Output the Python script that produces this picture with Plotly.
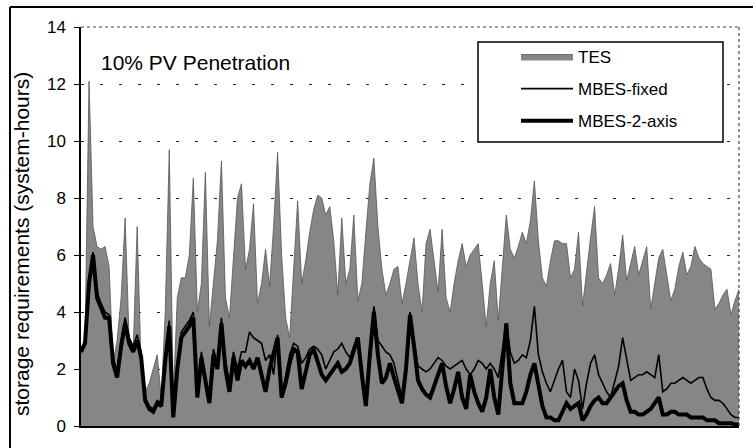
import plotly.graph_objects as go

# ---- data (one value per day/sample) ----
tes = [2.5, 3.0, 12.1, 7.0, 6.3, 6.2, 6.3, 5.6, 2.2, 3.0,
       4.5, 7.3, 3.0, 2.6, 7.0, 2.0, 1.2, 1.5, 2.0, 2.5,
       1.0, 4.0, 9.7, 1.0, 4.5, 5.2, 5.2, 6.0, 8.7, 4.0,
       5.0, 8.9, 3.5, 5.0, 6.5, 9.3, 4.5, 3.8, 6.0, 8.0,
       8.5, 5.5, 6.2, 7.8, 4.3, 5.0, 6.2, 4.9, 7.0, 9.6,
       6.0, 3.8, 3.1, 5.5, 7.9, 5.0, 5.8, 6.8, 7.6, 8.1,
       8.0, 7.4, 7.7, 6.5, 4.6, 7.3, 5.0, 5.5, 7.4, 4.4,
       5.0, 6.8, 8.5, 9.4, 7.0, 5.5, 4.6, 5.0, 5.5, 5.6,
       4.3, 5.0, 5.8, 6.6, 5.0, 4.0, 6.4, 6.9, 5.8, 4.7,
       6.9, 4.5, 4.0, 5.0, 5.8, 6.4, 5.6, 6.0, 6.2, 6.4,
       5.0, 3.5, 5.0, 5.8, 3.7, 5.5, 7.4, 6.2, 5.9, 6.3,
       6.8, 6.4, 7.2, 8.6, 6.5, 5.2, 4.9, 5.8, 6.5, 6.5,
       6.4, 6.4, 5.2, 5.5, 6.8, 4.2, 5.5, 6.6, 7.7, 5.2,
       5.0, 5.3, 5.7, 4.6, 5.5, 6.7, 5.1, 5.7, 6.3, 5.3,
       5.8, 6.3, 4.1, 5.0, 5.9, 6.2, 5.3, 4.4, 4.8, 5.6,
       6.1, 5.3, 5.6, 6.3, 5.9, 5.7, 5.6, 5.5, 4.1, 4.3,
       4.6, 4.8, 3.9, 4.4, 4.8]

mbes_fixed = [2.7, 3.0, 5.2, 6.1, 4.7, 4.3, 4.0, 3.9, 2.4, 1.9,
              3.0, 3.8, 3.1, 2.8, 3.2, 2.6, 1.0, 0.7, 0.6, 0.9,
              0.8, 2.5, 3.7, 0.4, 2.2, 3.3, 3.5, 3.7, 4.0, 1.2,
              2.6, 1.7, 1.0, 2.7, 2.2, 3.8, 2.3, 1.5, 2.6, 2.0,
              2.6, 2.6, 3.3, 3.1, 3.0, 2.9, 2.3, 2.5, 1.8, 3.2,
              1.0, 1.8, 2.5, 2.9, 2.8, 2.2, 2.4, 2.7, 2.8, 2.7,
              2.5, 2.0, 2.3, 2.6, 2.7, 2.9, 2.6, 2.4, 2.8, 3.1,
              2.0, 0.8, 2.8, 4.2, 3.0, 2.8, 2.6, 2.5, 2.2, 1.6,
              1.0, 2.2, 4.0, 3.0, 2.1, 2.0, 1.9, 2.0, 2.2, 2.4,
              2.3, 2.1, 2.0, 2.1, 2.2, 2.3, 2.0, 1.8, 2.0, 2.3,
              2.2, 2.0, 2.2, 2.0, 1.7, 2.6, 3.6, 2.6, 2.2, 2.3,
              2.5, 2.4, 3.0, 4.2, 2.5, 1.9, 1.5, 1.2, 1.6, 2.0,
              2.3, 1.2, 1.0, 2.0, 1.6, 0.6, 1.5, 2.2, 2.5, 1.8,
              1.5, 1.2, 1.0, 1.6, 2.1, 3.1, 2.3, 1.6, 1.7, 1.8,
              1.8, 1.9, 1.8, 1.7, 2.5, 1.2, 1.3, 1.5, 1.5, 1.6,
              1.7, 1.6, 1.5, 1.6, 1.7, 1.7, 1.3, 1.0, 0.9, 0.9,
              0.8, 0.6, 0.4, 0.3, 0.3]

mbes_2axis = [2.6, 2.9, 5.0, 6.0, 4.5, 4.1, 3.8, 3.8, 2.2, 1.7,
              2.8, 3.6, 2.9, 2.6, 3.0, 2.4, 0.9, 0.6, 0.5, 0.8,
              0.7, 2.3, 3.5, 0.3, 2.0, 3.1, 3.3, 3.5, 3.8, 1.0,
              2.4, 1.5, 0.8, 2.5, 2.0, 3.6, 2.0, 1.2, 2.4, 1.6,
              2.3, 2.1, 2.3, 2.0, 2.4, 1.8, 1.2, 2.0, 2.5, 3.1,
              1.0, 1.5, 2.2, 2.7, 2.6, 1.3, 1.9, 2.5, 2.7, 2.2,
              1.8, 1.6, 1.8, 2.0, 2.2, 1.9, 2.0, 2.2, 2.6, 3.1,
              1.8, 0.7, 2.5, 4.0, 2.5, 1.5, 1.7, 2.2, 1.7, 1.2,
              0.8, 2.0, 3.9, 2.8, 1.6, 1.3, 1.1, 1.0, 1.4, 1.8,
              2.2, 1.4, 0.8, 1.3, 1.9, 1.0, 0.6, 1.8, 1.2, 0.8,
              0.5, 1.0, 2.0, 1.0, 0.4, 2.0, 3.6, 1.5, 0.8, 0.8,
              0.8, 1.2, 1.8, 2.2, 1.5, 0.7, 0.3, 0.3, 0.2, 0.2,
              0.5, 0.8, 0.6, 0.7, 0.8, 0.2, 0.4, 0.7, 0.9, 1.0,
              0.8, 0.8, 1.0, 1.2, 1.4, 1.5, 0.9, 0.5, 0.5, 0.4,
              0.4, 0.5, 0.6, 0.8, 1.0, 0.4, 0.4, 0.5, 0.5, 0.4,
              0.4, 0.4, 0.3, 0.3, 0.3, 0.3, 0.2, 0.2, 0.2, 0.1,
              0.1, 0.1, 0.1, 0.05, 0.05]

days = list(range(len(tes)))
y_ticks = [0, 2, 4, 6, 8, 10, 12, 14]

fig = go.Figure()
fig.add_trace(go.Scatter(x=days, y=tes, name="TES", mode="lines", fill="tozeroy",
                         fillcolor="#868686", line=dict(color="#555555", width=0.8),
                         legendgroup="a"))
fig.add_trace(go.Scatter(x=days, y=mbes_fixed, name="MBES-fixed", mode="lines",
                         line=dict(color="black", width=1.6), legendgroup="b"))
fig.add_trace(go.Scatter(x=days, y=mbes_2axis, name="MBES-2-axis", mode="lines",
                         line=dict(color="black", width=4), legendgroup="c"))

W, H = 753, 448
L, R, T, B = 81, 14, 27, 22
pw, ph = W - L - R, H - T - B

def px(xp):
    return (xp - L) / pw

def py(yp):
    return (H - B - yp) / ph

fig.update_layout(
    width=W, height=H,
    margin=dict(l=L, r=R, t=T, b=B),
    paper_bgcolor="white", plot_bgcolor="white",
    showlegend=True,
    legend=dict(x=px(516), y=py(39), xanchor="left", yanchor="top",
                borderwidth=0, bgcolor="rgba(0,0,0,0)",
                font=dict(family="Liberation Sans, Arial, sans-serif", size=17, color="black"),
                itemwidth=52, tracegroupgap=7),
    xaxis=dict(range=[0, len(tes) - 1], showticklabels=False, ticks="", showgrid=False,
               zeroline=False, showline=True, linecolor="black", linewidth=1.5),
    yaxis=dict(range=[0, 14], tickvals=y_ticks, ticks="outside", ticklen=5, tickwidth=1.2,
               tickcolor="black", showline=True, linecolor="black", linewidth=1.5,
               showgrid=True, gridcolor="#222", gridwidth=1.3, griddash="3px,16px",
               zeroline=False, ticklabelstandoff=5,
               tickfont=dict(family="Liberation Sans, Arial, sans-serif",
                             size=17, color="black")),
    shapes=[
        # dotted top and right plot borders
        dict(type="line", xref="paper", yref="paper", x0=0, x1=1, y0=1, y1=1,
             line=dict(color="#444", width=1.2, dash="dot")),
        dict(type="line", xref="paper", yref="paper", x0=1, x1=1, y0=0, y1=1,
             line=dict(color="#444", width=1.2, dash="dot")),
        # legend box
        dict(type="rect", xref="paper", yref="paper", layer="above",
             x0=px(478), x1=px(723), y0=py(142), y1=py(42),
             fillcolor="white", line=dict(color="black", width=1.5)),
        # outer frame (top and left edges)
        dict(type="line", xref="paper", yref="paper", x0=px(10), x1=px(760), y0=py(7), y1=py(7),
             line=dict(color="black", width=2)),
        dict(type="line", xref="paper", yref="paper", x0=px(10), x1=px(10), y0=py(7), y1=py(460),
             line=dict(color="black", width=2)),
    ],
    annotations=[
        dict(text="10% PV Penetration", xref="paper", yref="paper", x=px(99), y=py(62),
             xanchor="left", yanchor="middle", showarrow=False,
             font=dict(family="Liberation Sans, Arial, sans-serif", size=21, color="black")),
        dict(text="storage requirements (system-hours)", xref="paper", yref="paper",
             x=px(21), y=py(244), xanchor="center", yanchor="middle", textangle=-90,
             showarrow=False,
             font=dict(family="Liberation Sans, Arial, sans-serif", size=21, color="black")),
    ],
)

fig.write_html("out.html")
